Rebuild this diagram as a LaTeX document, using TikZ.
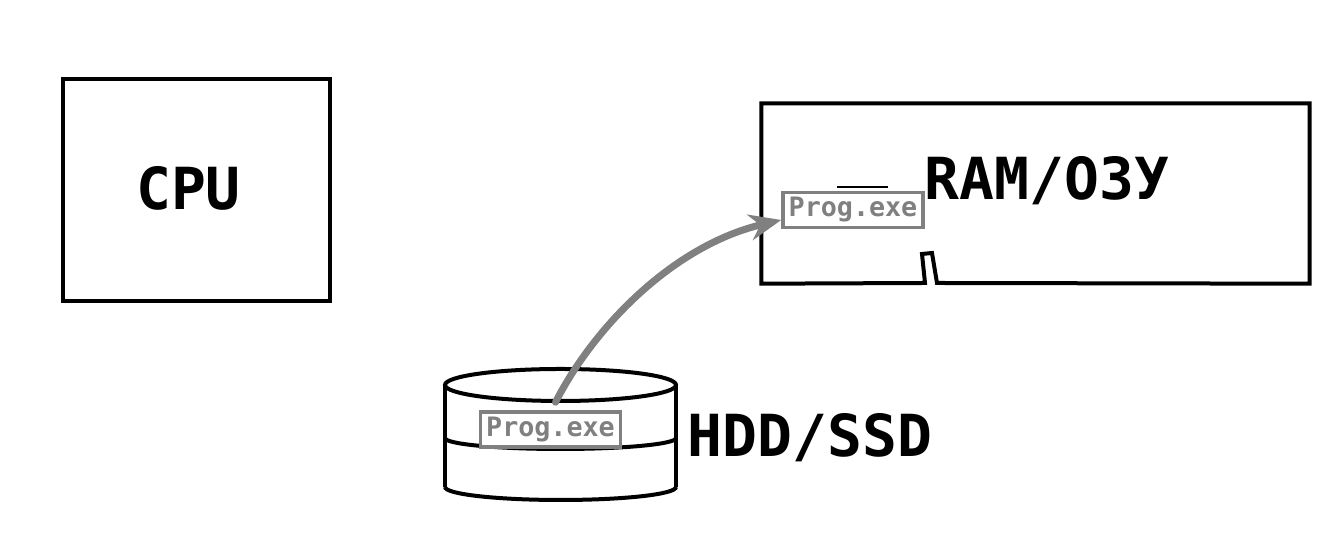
\documentclass[tikz,border=0pt]{standalone}
\usepackage{fontspec}
\setmainfont{DejaVu Sans Mono}
\usepackage{xcolor}
\usetikzlibrary{positioning}
\usetikzlibrary{arrows.meta}

\begin{document}
\begin{tikzpicture}
                [box/.style = {minimum width = 2.67cm, minimum height = 2.22cm, line width = 0.4mm, draw},
                 big/.style = {font = \fontsize{16.5}{18}\selectfont\bfseries, inner sep = 0},
                 file/.style = {minimum width = 1.40cm, minimum height = 0.35cm, inner sep = 0, line width = 0.35mm, draw = gray, fill = white, text = gray, font = \fontsize{7.6}{8}\selectfont\bfseries},
                 hull/.style = {line width = 0.4mm}]
                \useasboundingbox (0,0) rectangle (13.39,-5.44);
                % Processor
                \node[box] (cpu) at (1.965,-1.90) {};
                \node[big, anchor = base] (cpul) at (1.885,-2.10) {CPU};
                % Memory, outline with the small notch at the bottom
                \node[minimum width = 5.47cm, minimum height = 1.79cm] (ram) at (10.355,-1.935) {};
                \draw[hull] (ram.north west) -- (ram.north east) -- (ram.south east) -- (9.37,-2.83) -- (9.32,-2.53) -- (9.22,-2.54) -- (9.25,-2.83) -- (ram.south west) -- cycle;
                \node[big, anchor = base] (raml) at (10.47,-2.00) {RAM/ОЗУ};
                \draw[line width = 0.2mm] (8.37,-1.87) -- (8.88,-1.87);
                % Disk
                \draw[hull] (5.605,-3.85) ellipse (1.155 and 0.16);
                \draw[hull] (4.45,-3.85) -- (4.45,-4.87);
                \draw[hull] (6.76,-3.85) -- (6.76,-4.87);
                \draw[hull] (4.45,-4.38) arc (180:360:1.155 and 0.11);
                \draw[hull] (4.45,-4.87) arc (180:360:1.155 and 0.13);
                \node[big, anchor = base] (diskl) at (8.10,-4.57) {HDD/SSD};
                % Files
                \node[file] (dprog) at (5.505,-4.295) {Prog.exe};
                \node[file] (rprog) at (8.53,-2.10) {Prog.exe};
                % Loading
                \draw[gray, line width = 0.7mm, line cap = round, -{Stealth[length = 3.2mm, width = 2.6mm]}]
                    ([xshift = 0.5mm, yshift = 0.8mm]dprog.north) .. controls (5.95,-3.25) and (6.75,-2.45) .. ([yshift = -1mm]rprog.west);
            \end{tikzpicture}
\end{document}
